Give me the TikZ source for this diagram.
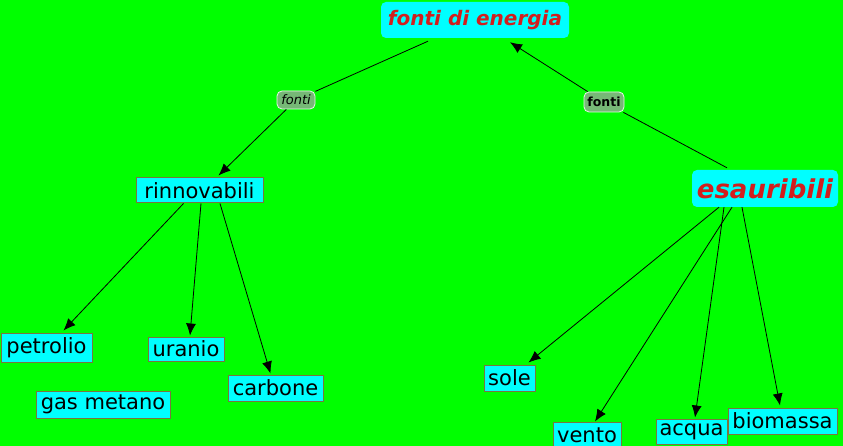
\documentclass[tikz,border=0pt]{standalone}
\usepackage{fontspec}
\setmainfont{DejaVu Sans}
\usetikzlibrary{arrows.meta}
\definecolor{bggreen}{RGB}{0,255,0}
\definecolor{boxcyan}{RGB}{0,255,255}
\definecolor{boxborder}{RGB}{122,118,62}
\definecolor{titlered}{RGB}{210,30,30}
\definecolor{labfill}{RGB}{118,184,118}
\tikzset{
  leaf/.style={draw=boxborder, line width=1pt, fill=boxcyan, inner sep=0pt,
    font=\fontsize{21}{23}\selectfont, text=black},
  topic/.style={fill=boxcyan, rounded corners=5pt, inner sep=0pt,
    text=titlered, font=\bfseries\itshape},
  linklab/.style={draw=white!85!labfill, line width=0.8pt, fill=labfill, rounded corners=5pt,
    inner sep=0pt, text=black},
  conn/.style={black, line width=0.8pt},
  arr/.style={conn, -{Latex[length=12pt,width=10pt]}}
}
\begin{document}
\begin{tikzpicture}[x=1pt,y=-1pt]
\fill[bggreen] (0,0) rectangle (843,446);
\useasboundingbox (0,0) rectangle (843,446);

\node[topic, minimum width=188pt, minimum height=36pt, font=\fontsize{20}{22}\bfseries\itshape\selectfont] (fde) at (475,20) {fonti di energia};
\node[topic, minimum width=146pt, minimum height=37pt, font=\fontsize{26}{28}\bfseries\itshape\selectfont] (esa) at (765,188.5) {esauribili};

\node[linklab, minimum width=38pt, minimum height=18pt, font=\fontsize{13}{14}\itshape\selectfont] (lab1) at (296,100) {fonti};
\node[linklab, minimum width=40pt, minimum height=20pt, font=\fontsize{12.5}{14}\bfseries\selectfont] (lab2) at (604,102) {fonti};

\node[leaf, minimum width=127pt, minimum height=25pt] (rin) at (199.5,190.5) {rinnovabili};
\node[leaf, minimum width=91pt, minimum height=29pt] (pet) at (46.5,347.5) {petrolio};
\node[leaf, minimum width=76pt, minimum height=24pt] (ura) at (186,349) {uranio};
\node[leaf, minimum width=134pt, minimum height=27pt] (gas) at (103,404.5) {gas metano};
\node[leaf, minimum width=95pt, minimum height=26pt] (car) at (275.5,388) {carbone};
\node[leaf, minimum width=51pt, minimum height=26pt] (sol) at (509.5,378) {sole};
\node[leaf, minimum width=68pt, minimum height=26pt] (ven) at (587,435) {vento};
\node[leaf, minimum width=71pt, minimum height=25pt] (acq) at (691.5,431.5) {acqua};
\node[leaf, minimum width=109pt, minimum height=26pt] (bio) at (782.5,421) {biomassa};

% fonti di energia -> rinnovabili
\draw[conn] ([xshift=-47pt,yshift=-3pt]fde.south) -- (lab1);
\draw[arr] (lab1) -- ([xshift=19pt,yshift=2pt]rin.north);
% esauribili -> fonti di energia
\draw[conn] ([xshift=-38pt,yshift=2pt]esa.north) -- (lab2);
\draw[arr] (lab2) -- ([xshift=35pt,yshift=-4pt]fde.south);

% rinnovabili children
\draw[arr] ([xshift=-16pt]rin.south) -- ([xshift=17pt,yshift=2pt]pet.north);
\draw[arr] ([xshift=1.5pt]rin.south) -- ([xshift=4pt,yshift=1pt]ura.north);
\draw[arr] ([xshift=20.5pt]rin.south) -- ([xshift=-5pt,yshift=1pt]car.north);

% esauribili children
\draw[arr] ([xshift=-46pt]esa.south) -- ([xshift=19pt,yshift=2pt]sol.north);
\draw[arr] ([xshift=-33pt]esa.south) -- ([xshift=8pt,yshift=0pt]ven.north);
\draw[arr] ([xshift=-41pt]esa.south) -- ([xshift=3.5pt,yshift=1pt]acq.north);
\draw[arr] ([xshift=-23pt]esa.south) -- ([xshift=-2.5pt,yshift=2pt]bio.north);
\end{tikzpicture}
\end{document}
